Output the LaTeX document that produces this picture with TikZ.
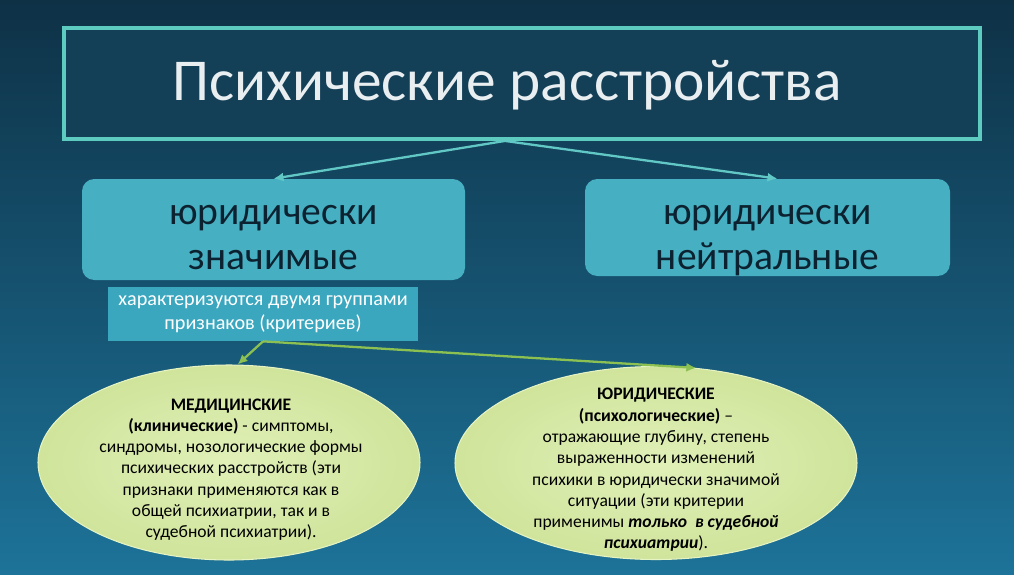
\documentclass[tikz,border=0pt]{standalone}
\usepackage{fontspec}
\setmainfont{Carlito}
\usepackage{xcolor}
\usetikzlibrary{arrows.meta,positioning,shapes.geometric}

\definecolor{bgtop}{HTML}{0E3146}
\definecolor{bgbot}{HTML}{1D7399}
\definecolor{titleline}{HTML}{5ECBC0}
\definecolor{titlefill}{HTML}{133F57}
\definecolor{titletext}{HTML}{E9EEF0}
\definecolor{boxfill}{HTML}{46B0C2}
\definecolor{boxtext}{HTML}{0C2230}
\definecolor{notefill}{HTML}{3AA7BF}
\definecolor{critfill}{HTML}{D6EBA0}
\definecolor{critline}{HTML}{E6F3C2}
\definecolor{linkteal}{HTML}{62C8C6}
\definecolor{linkgreen}{HTML}{8CC152}

\begin{document}
\begin{tikzpicture}[
  font=\fontsize{10}{12.5}\selectfont,
  titlebox/.style={
    rectangle,
    draw=titleline,
    line width=2.2pt,
    fill=titlefill,
    minimum width=18.32cm,
    minimum height=2.22cm
  },
  titletext/.style={
    text=titletext,
    font=\fontsize{33.8}{38}\selectfont
  },
  groupbox/.style={
    rectangle,
    rounded corners=7pt,
    fill=boxfill
  },
  grouptext/.style={
    align=center,
    text=boxtext,
    font=\fontsize{22.5}{26}\selectfont
  },
  notebox/.style={
    rectangle,
    fill=notefill,
    text=white,
    align=center,
    minimum width=6.2cm,
    minimum height=1.08cm,
    font=\fontsize{11.5}{13.6}\selectfont
  },
  crit/.style={
    ellipse,
    draw=critline,
    line width=0.6pt,
    inner color=critfill!75!white,
    outer color=critfill!97!black,
    inner sep=0pt
  },
  crittext/.style={align=center, text=black, font=\fontsize{10}{12.1}\selectfont},
  link/.style={-{Latex[length=2mm,width=1.8mm]}, line width=1.3pt, draw=linkteal},
  greenlink/.style={-{Latex[length=2mm,width=1.8mm]}, line width=1.3pt, draw=linkgreen}
]
  % background
  \useasboundingbox (0,0) rectangle (20.28,-11.48);
  \shade[top color=bgtop, bottom color=bgbot] (0,0) rectangle (20.28,-11.48);

  \node[titlebox] (title) at (10.44,-1.67) {};
  \node[titletext] (titlelabel) at ([xshift=-0.3cm,yshift=-0.03cm]title.center) {Психические расстройства};

  \node[groupbox, minimum width=7.66cm, minimum height=2.02cm] (lbox) at (5.47,-4.59) {};
  \node[grouptext] (lboxtext) at ([yshift=-0.16cm]lbox.center) {юридически\\значимые};
  \node[groupbox, minimum width=7.3cm, minimum height=1.94cm] (rbox) at (15.35,-4.55) {};
  \node[grouptext] (rboxtext) at ([yshift=-0.26cm]rbox.center) {юридически\\нейтральные};

  \node[notebox] (note) at (5.26,-6.28)
    {характеризуются двумя группами\\признаков (критериев)};

  \node[crit, minimum width=7.64cm, minimum height=3.9cm] (lell) at (4.58,-9.25) {};
  \node[crit, minimum width=8.04cm, minimum height=3.86cm] (rell) at (13.12,-9.26) {};

  \node[crittext] (ltext) at (4.62,-9.39)
    {\textbf{МЕДИЦИНСКИЕ}\\
     \textbf{(клинические)} - симптомы,\\
     синдромы, нозологические формы\\
     психических расстройств (эти\\
     признаки применяются как в\\
     общей психиатрии, так и в\\
     судебной психиатрии).};
  \node[crittext] (rtext) at (13.12,-9.4)
    {\textbf{ЮРИДИЧЕСКИЕ}\\
     \textbf{(психологические)} –\\
     отражающие глубину, степень\\
     выраженности изменений\\
     психики в юридически значимой\\
     ситуации (эти критерии\\
     применимы \textbf{\textit{только\ \ в судебной}}\\
     \textbf{\textit{психиатрии}}).};

  \coordinate (fork) at ([xshift=-0.34cm]title.south);
  \draw[link] (fork) -- (lbox.north);
  \draw[link] (fork) -- ([xshift=0.2cm]rbox.north);

  \draw[greenlink] (note.south) -- (lell.85);
  \draw[greenlink] (note.south) -- (rell.67);
\end{tikzpicture}
\end{document}
